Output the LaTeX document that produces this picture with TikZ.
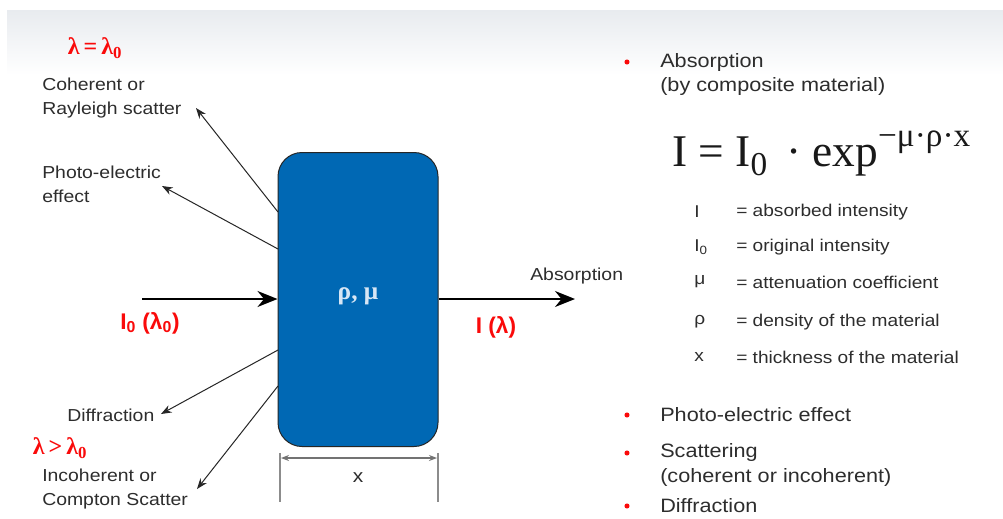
\documentclass[tikz,border=0pt]{standalone}
\usepackage{fontspec}
\setmainfont{Liberation Sans}[FakeStretch=1.12]
\newfontfamily\redsans{Liberation Sans}
\newfontfamily\serifx{Liberation Serif}
\usetikzlibrary{arrows.meta}
\definecolor{boxblue}{RGB}{0,104,180}
\definecolor{txt}{RGB}{45,45,45}
\definecolor{lred}{RGB}{250,10,10}
\definecolor{rholbl}{RGB}{215,230,245}
\definecolor{band}{RGB}{232,235,239}
\tikzset{
 lbl/.style={font=\fontsize{13}{18}\selectfont, text=txt, align=left, inner sep=0pt, anchor=west},
 bul/.style={font=\fontsize{14.5}{18.5}\selectfont, text=txt, align=left, inner sep=0pt, anchor=west},
 leg/.style={font=\fontsize{12.8}{15}\selectfont, text=txt, inner sep=0pt, anchor=west},
 redlbl/.style={font=\redsans\bfseries\fontsize{17}{20}\selectfont, text=lred, inner sep=0pt},
 redser/.style={font=\serifx\bfseries\fontsize{18}{20}\selectfont, text=lred, inner sep=0pt},
 ray/.style={draw=black!85, line width=0.75pt, -{Stealth[length=8pt,width=6pt]}},
 beam/.style={draw=black, line width=1.5pt, -{Stealth[length=15pt,width=12pt]}},
 dimline/.style={draw=black!45, line width=1pt},
 dimarrow/.style={draw=black!55, line width=0.9pt, {Stealth[length=6pt,width=4.5pt]}-{Stealth[length=6pt,width=4.5pt]}},
 dotb/.style={circle, fill=lred, inner sep=0pt, minimum size=3.8pt},
 matbox/.style={draw=black!85, line width=0.75pt, fill=boxblue, rounded corners=18pt, minimum width=120pt, minimum height=220.5pt, inner sep=0pt},
}
\begin{document}
\begin{tikzpicture}[x=0.75pt,y=-0.75pt]
\useasboundingbox (0,0) rectangle (1003,518);
\fill[white] (0,0) rectangle (1003,518);
\shade[top color=band, bottom color=white] (7,10) rectangle (1003,75);

% material block
\node[matbox] (box) at (358,299.5) {};
\node[font=\serifx\bfseries\fontsize{19}{20}\selectfont, text=rholbl, inner sep=0pt] (rm) at (358,296) {ρ, μ};

% incoming / outgoing beam
\coordinate (src) at (142,299);
\coordinate (dst) at (575,299);
\draw[beam] (src) -- (box.west |- src);
\draw[beam] (box.east |- dst) -- (dst);
\node[redlbl] (i0) at (150,323) {I\textsubscript{0} (λ\textsubscript{0})};
\node[redlbl] (il) at (496,327) {I (λ)};
\node[lbl] (abs) at (530,276) {Absorption};

% scattered rays
\coordinate (s1) at (278,212);
\coordinate (s2) at (278,249);
\coordinate (s3) at (278,350);
\coordinate (s4) at (278,386);
\coordinate (t1) at (196,108);
\coordinate (t2) at (162,186);
\coordinate (t3) at (161,414);
\coordinate (t4) at (197,489);
\draw[ray] (s1) -- (t1);
\draw[ray] (s2) -- (t2);
\draw[ray] (s3) -- (t3);
\draw[ray] (s4) -- (t4);

\node[redser] (leq) at (95,48) {λ\,=\,λ\textsubscript{0}};
\node[lbl] (coh) at (42,98) {Coherent or\\Rayleigh scatter};
\node[lbl] (pe) at (42,184) {Photo-electric\\effect};
\node[lbl] (dif) at (67,415) {Diffraction};
\node[redser] (lgt) at (60,448) {λ\,>\,λ\textsubscript{0}};
\node[lbl] (comp) at (42,489) {Incoherent or\\Compton Scatter};

% thickness dimension
\coordinate (d1a) at (280,453);
\coordinate (d1b) at (280,502);
\coordinate (d2a) at (438,453);
\coordinate (d2b) at (438,502);
\draw[dimline] (d1a) -- (d1b);
\draw[dimline] (d2a) -- (d2b);
\coordinate (da) at (281,458);
\coordinate (db) at (437,458);
\draw[dimarrow] (da) -- (db);
\node[font=\fontsize{14}{16}\selectfont, text=txt, inner sep=0pt] (xl) at (358,478) {x};

% right side text
\node[dotb] (b1) at (627,62) {};
\node[bul] (t_abs) at (660,74.5) {Absorption\\(by composite material)};
\node[font=\serifx\fontsize{34}{36}\selectfont, text=black!90, anchor=base west, inner sep=0pt] (formula) at (672,166)
 {I = I\raisebox{-0.2em}{\fontsize{25}{25}\selectfont 0}\, · exp\raisebox{0.42em}{\fontsize{25}{25}\selectfont −μ·ρ·x}};

\node[leg] (g1) at (694,212) {I};
\node[leg] (g2) at (694,247) {I\textsubscript{0}};
\node[leg] (g3) at (694,282) {μ};
\node[leg] (g4) at (694,322) {ρ};
\node[leg] (g5) at (694,357) {x};
\node[leg] (h1) at (736,212) {= absorbed intensity};
\node[leg] (h2) at (736,247) {= original intensity};
\node[leg] (h3) at (736,282) {= attenuation coefficient};
\node[leg] (h4) at (736,322) {= density of the material};
\node[leg] (h5) at (736,357) {= thickness of the material};

\node[dotb] (b2) at (627,415) {};
\node[bul] (t_pe) at (660,415) {Photo-electric effect};
\node[dotb] (b3) at (627,453) {};
\node[bul] (t_sc) at (660,465) {Scattering\\(coherent or incoherent)};
\node[dotb] (b4) at (627,506) {};
\node[bul] (t_df) at (660,506) {Diffraction};
\end{tikzpicture}
\end{document}
